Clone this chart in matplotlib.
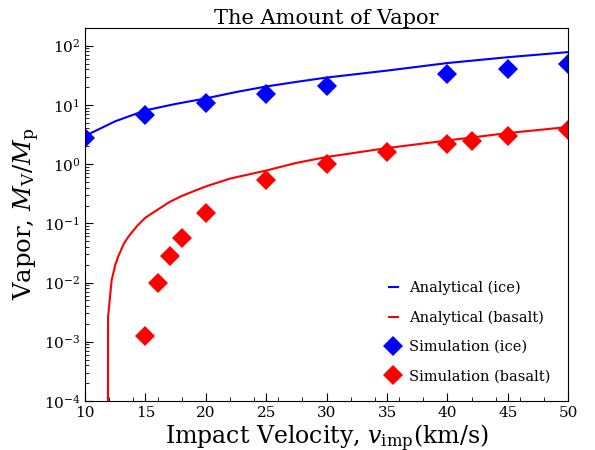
import numpy as np
import matplotlib
matplotlib.use("Agg")
import matplotlib.pyplot as plt

plt.rcParams['font.family'] = 'DejaVu Serif'
plt.rcParams['mathtext.fontset'] = 'dejavuserif'

# analytical curves
v_ice_line = [10, 12.5, 15, 17.5, 20, 22.5, 25, 27.5, 30, 35, 40, 45, 50]
m_ice_line = [3.0, 5.3, 8.1, 10.4, 12.9, 16.5, 20.5, 24.5, 29.0, 38, 51, 64, 78]

v_bas_line = [11.88, 11.9, 12.2, 12.5, 12.76, 13.2, 13.6, 14.3, 15.0, 16.0, 17.0, 18.0, 19.0,
              20.0, 22.0, 25, 27.5, 30, 35, 40, 45, 50]
m_bas_line = [1e-6, 0.0026, 0.011, 0.02, 0.028, 0.045, 0.06, 0.09, 0.125, 0.17, 0.23, 0.29, 0.35,
              0.42, 0.57, 0.78, 1.05, 1.32, 1.87, 2.51, 3.35, 4.24]

# simulation results
v_ice_sim = [10, 15, 20, 25, 30, 40, 45, 50]
m_ice_sim = [2.8, 6.8, 10.9, 15.5, 21, 33.6, 40.8, 49.7]

v_bas_sim = [15, 16, 17, 18, 20, 25, 30, 35, 40, 42, 45, 50]
m_bas_sim = [0.00123, 0.0098, 0.028, 0.057, 0.15, 0.53, 1.0, 1.6, 2.2, 2.5, 2.94, 3.7]

fig = plt.figure(figsize=(5.95, 4.5), dpi=100)
ax = fig.add_axes([0.143, 0.109, 0.812, 0.829])

ax.plot(v_ice_line, m_ice_line, color='blue', lw=1.5, label='Analytical (ice)')
ax.plot(v_bas_line, m_bas_line, color='red', lw=1.5, label='Analytical (basalt)')
ax.plot(v_ice_sim, m_ice_sim, 'D', color='blue', ms=10, mew=0, label='Simulation (ice)')
ax.plot(v_bas_sim, m_bas_sim, 'D', color='red', ms=10, mew=0, label='Simulation (basalt)')

ax.set_yscale('log')
ax.set_xlim(10, 50)
ax.set_ylim(1e-4, 2e2)
ax.xaxis.set_minor_locator(matplotlib.ticker.MultipleLocator(2))

ax.tick_params(which='both', direction='in', top=False, right=False, labelsize=11)
ax.tick_params(which='major', length=6)
ax.tick_params(which='minor', length=3)

ax.set_title('The Amount of Vapor', fontsize=15, pad=3)
ax.set_xlabel(r'Impact Velocity, $v_{\rm imp}$(km/s)', fontsize=17, labelpad=2)
ax.set_ylabel(r'Vapor, $M_{\rm V}/M_{\rm p}$', fontsize=17.5, labelpad=1)

ax.legend(loc='lower right', frameon=False, fontsize=10.5, numpoints=1,
          handlelength=0.6, borderaxespad=0.8, labelspacing=1.05)

fig.savefig('out.png', dpi=100)
